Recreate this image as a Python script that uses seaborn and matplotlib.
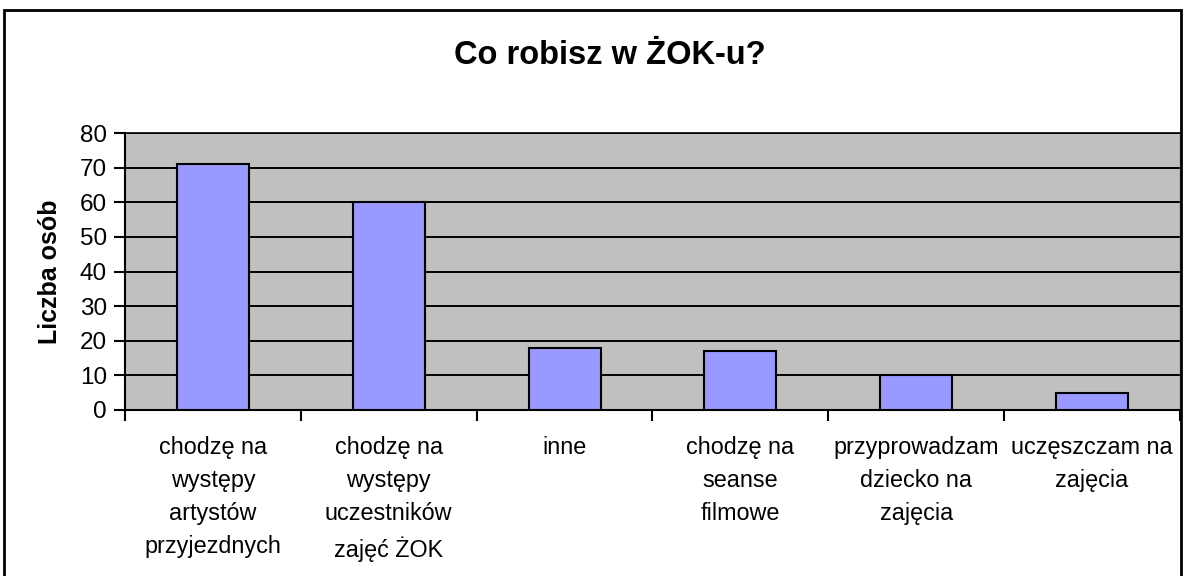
import matplotlib
matplotlib.use('Agg')
import matplotlib.pyplot as plt
import matplotlib.patches as patches
import seaborn as sns
import pandas as pd

# dane z wykresu
kategorie = ['chodzę na\nwystępy\nartystów\nprzyjezdnych',
             'chodzę na\nwystępy\nuczestników\nzajęć ŻOK',
             'inne',
             'chodzę na\nseanse\nfilmowe',
             'przyprowadzam\ndziecko na\nzajęcia',
             'uczęszczam na\nzajęcia']
liczba_osob = [71, 60, 18, 17, 10, 5]
y_ticks = [0, 10, 20, 30, 40, 50, 60, 70, 80]

sns.set_style('white')
plt.rcParams['font.family'] = ['Liberation Sans', 'DejaVu Sans']
plt.rcParams['text.color'] = 'black'
plt.rcParams['xtick.color'] = 'black'
plt.rcParams['ytick.color'] = 'black'

df = pd.DataFrame({'kategoria': kategorie, 'liczba': liczba_osob})

fig = plt.figure(figsize=(11.84, 5.76), dpi=100)
ax = fig.add_axes([125 / 1184, 166 / 576, 1055 / 1184, 277 / 576])
ax.set_facecolor('#C0C0C0')

sns.barplot(data=df, x='kategoria', y='liczba', color='#9999FF', width=0.41,
            edgecolor='black', linewidth=1.5, saturation=1, ax=ax, zorder=3)

ax.set_ylim(0, 80)
ax.set_xlim(-0.5, len(kategorie) - 0.5)
ax.set_yticks(y_ticks)
ax.yaxis.grid(True, color='black', linewidth=1.4, zorder=1)
ax.set_axisbelow(True)

# znaczniki na granicach kategorii
ax.set_xticks(range(len(kategorie)))
ax.set_xticklabels(kategorie, fontsize=16.8, linespacing=1.55, va='top')
ax.set_xticks([i - 0.5 for i in range(len(kategorie) + 1)], minor=True)
ax.tick_params(axis='x', which='major', length=0, pad=19)
ax.tick_params(axis='x', which='minor', length=8, width=1.5, direction='out', color='black')
ax.tick_params(axis='y', length=8, width=1.5, direction='out', color='black', labelsize=17.5, pad=5)
ax.xaxis.set_ticks_position('bottom')
ax.yaxis.set_ticks_position('left')

for s in ['left', 'bottom']:
    ax.spines[s].set_color('black')
    ax.spines[s].set_linewidth(1.5)
ax.spines['top'].set_color('black')
ax.spines['top'].set_linewidth(1.2)
ax.spines['right'].set_color('#808080')
ax.spines['right'].set_linewidth(1.0)

ax.set_xlabel('')
ax.set_ylabel('')
fig.text(50 / 1184, 1 - 272 / 576, 'Liczba osób', rotation=90, fontsize=18,
         fontweight='bold', ha='center', va='center')
fig.text(610 / 1184, 1 - 55 / 576, 'Co robisz w ŻOK-u?', fontsize=23.5,
         fontweight='bold', ha='center', va='center')

# ramka wykresu
fig.patches.append(patches.Rectangle((4 / 1184, -5 / 576), 1177 / 1184, 571 / 576,
                                     transform=fig.transFigure, fill=False,
                                     edgecolor='black', linewidth=2))

fig.savefig('out.png', dpi=100)
